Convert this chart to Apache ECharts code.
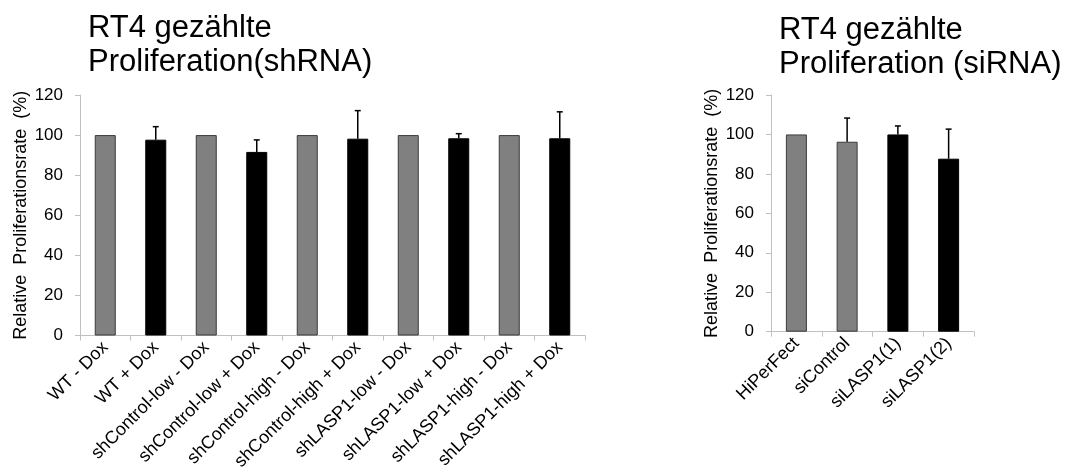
<!DOCTYPE html>
<html>
<head>
<meta charset="utf-8">
<script src="https://cdn.jsdelivr.net/npm/echarts@6/dist/echarts.min.js"></script>
<style>
html,body{margin:0;padding:0;background:#fff;}
#chart{width:1073px;height:473px;}
</style>
</head>
<body>
<div id="chart"></div>
<script>
// ---- data ----
const shCategories = ['WT - Dox','WT + Dox','shControl-low - Dox','shControl-low + Dox','shControl-high - Dox','shControl-high + Dox','shLASP1-low - Dox','shLASP1-low + Dox','shLASP1-high - Dox','shLASP1-high + Dox'];
const shDox = ['-','+','-','+','-','+','-','+','-','+'];
const shValues = [100, 97.7, 100, 91.6, 100, 98.2, 100, 98.4, 100, 98.4];
const shErrors = [0, 6.5, 0, 6.0, 0, 14.0, 0, 2.3, 0, 13.2];

const siCategories = ['HiPerFect','siControl','siLASP1(1)','siLASP1(2)'];
const siType = ['control','control','knockdown','knockdown'];
const siValues = [100, 96.3, 100, 87.7];
const siErrors = [0, 12.0, 4.3, 15.0];

const yTicks = [0, 20, 40, 60, 80, 100, 120];

const titleLeft = 'RT4 gezählte\nProliferation(shRNA)';
const titleRight = 'RT4 gezählte\nProliferation (siRNA)';
const yName = 'Relative  Proliferationsrate  (%)';

// ---- styling ----
const FONT = '"Liberation Sans", Arial, sans-serif';
const GRAY = '#808080';
const BLACK = '#000000';
const AXIS = '#c0c0c0';

function barItems(values, isDark) {
  return values.map((v, i) => ({
    value: v,
    itemStyle: isDark(i)
      ? { color: BLACK, borderColor: BLACK, borderWidth: 1 }
      : { color: GRAY, borderColor: '#3a3a3a', borderWidth: 1 }
  }));
}

function errData(values, errors) {
  return values.map((v, i) => [i, v, v + errors[i]]);
}

function errRender(params, api) {
  const i = api.value(0);
  const lo = api.coord([i, api.value(1)]);
  const hi = api.coord([i, api.value(2)]);
  if (hi[1] >= lo[1] - 0.5) return null;
  const cap = 3;
  return {
    type: 'group',
    children: [
      { type: 'line', shape: { x1: lo[0], y1: lo[1], x2: hi[0], y2: hi[1] }, style: { stroke: '#000', lineWidth: 1.5 } },
      { type: 'line', shape: { x1: hi[0] - cap, y1: hi[1], x2: hi[0] + cap, y2: hi[1] }, style: { stroke: '#000', lineWidth: 1.5 } }
    ]
  };
}

function yAxisCfg(gridIndex) {
  return {
    type: 'value', gridIndex, min: 0, max: 120, interval: 20,
    name: yName, nameLocation: 'middle', nameGap: 50, nameRotate: 90,
    nameTextStyle: { fontFamily: FONT, fontSize: 18, color: '#000' },
    axisLine: { show: true, lineStyle: { color: AXIS, width: 1 } },
    axisTick: { show: true, length: 5, lineStyle: { color: AXIS } },
    splitLine: { show: false },
    axisLabel: { fontFamily: FONT, fontSize: 17, color: '#000', margin: 17,
      formatter: v => (yTicks.indexOf(v) >= 0 ? String(v) : '') }
  };
}

function xAxisCfg(gridIndex, cats) {
  return {
    type: 'category', gridIndex, data: cats, boundaryGap: true,
    axisLine: { show: true, lineStyle: { color: AXIS, width: 1 } },
    axisTick: { show: true, length: 5, lineStyle: { color: AXIS } },
    axisLabel: { fontFamily: FONT, fontSize: 18, color: '#000', rotate: 45, margin: 9, interval: 0 }
  };
}

const chart = echarts.init(document.getElementById('chart'), null, { renderer: 'canvas' });
chart.setOption({
  animation: false,
  backgroundColor: '#fff',
  title: [
    { text: titleLeft, left: 88, top: 11, padding: 0,
      textStyle: { fontFamily: FONT, fontSize: 31, fontWeight: 'normal', color: '#000', lineHeight: 34 } },
    { text: titleRight, left: 779, top: 13, padding: 0,
      textStyle: { fontFamily: FONT, fontSize: 31, fontWeight: 'normal', color: '#000', lineHeight: 34 } }
  ],
  grid: [
    { left: 80, right: 488, top: 95, bottom: 137.5, containLabel: false },
    { left: 771, right: 99, top: 95, bottom: 141.3, containLabel: false }
  ],
  xAxis: [xAxisCfg(0, shCategories), xAxisCfg(1, siCategories)],
  yAxis: [yAxisCfg(0), yAxisCfg(1)],
  series: [
    { type: 'bar', xAxisIndex: 0, yAxisIndex: 0, barWidth: 21,
      data: barItems(shValues, i => shDox[i] === '+') },
    { type: 'custom', xAxisIndex: 0, yAxisIndex: 0, renderItem: errRender,
      encode: { x: 0, y: [1, 2] }, data: errData(shValues, shErrors), z: 5 },
    { type: 'bar', xAxisIndex: 1, yAxisIndex: 1, barWidth: 21,
      data: barItems(siValues, i => siType[i] === 'knockdown') },
    { type: 'custom', xAxisIndex: 1, yAxisIndex: 1, renderItem: errRender,
      encode: { x: 0, y: [1, 2] }, data: errData(siValues, siErrors), z: 5 }
  ]
});
</script>
</body>
</html>
